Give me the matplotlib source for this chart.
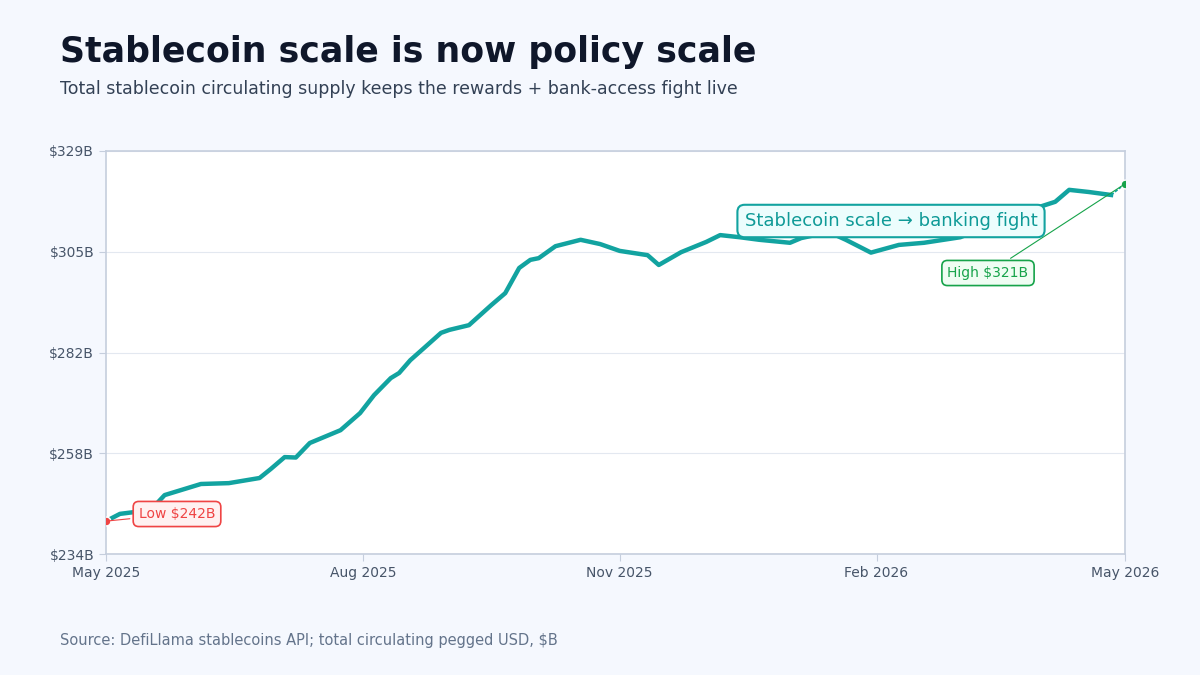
import matplotlib
matplotlib.use("Agg")
import matplotlib.pyplot as plt
import matplotlib.dates as mdates
import pandas as pd

dates = ["2025-05-01","2025-05-06","2025-05-17","2025-05-22","2025-06-04","2025-06-14","2025-06-25",
         "2025-06-29","2025-07-04","2025-07-08","2025-07-13","2025-07-24","2025-07-31","2025-08-05",
         "2025-08-11","2025-08-14","2025-08-18","2025-08-23","2025-08-29","2025-09-01","2025-09-08",
         "2025-09-16","2025-09-21","2025-09-26","2025-09-30","2025-10-03","2025-10-09","2025-10-18",
         "2025-10-25","2025-11-01","2025-11-11","2025-11-15","2025-11-23","2025-12-02","2025-12-07",
         "2025-12-14","2025-12-21","2026-01-01","2026-01-05","2026-01-15","2026-01-21","2026-01-30",
         "2026-02-09","2026-02-18","2026-03-03","2026-03-17","2026-03-28","2026-04-06","2026-04-11",
         "2026-04-18","2026-04-26","2026-05-01"]
supply = [242.1,243.8,244.7,248.2,250.8,251.0,252.2,254.3,257.1,257.0,260.4,263.4,267.4,271.6,
          275.6,276.8,279.8,282.7,286.2,286.9,288.0,292.7,295.5,301.4,303.3,303.7,306.5,308.0,
          307.0,305.4,304.4,302.1,305.1,307.5,309.1,308.6,308.0,307.3,308.4,309.8,308.0,305.0,
          306.8,307.3,308.6,312.2,315.0,316.9,319.7,319.2,318.5,321.1,321.0]
supply = supply[:len(dates)]
yticks = [234, 258, 282, 305, 329]
ylabels = ["$234B", "$258B", "$282B", "$305B", "$329B"]
xticks = ["2025-05-01", "2025-08-01", "2025-11-01", "2026-02-01", "2026-05-01"]
xlabels = ["May 2025", "Aug 2025", "Nov 2025", "Feb 2026", "May 2026"]

d = pd.to_datetime(dates)
bg = "#f5f8fe"
teal = "#12a3a0"
fig = plt.figure(figsize=(12, 6.75), dpi=100, facecolor=bg)
ax = fig.add_axes([106/1200, 1-554/675, (1125-106)/1200, (554-151)/675])
ax.set_facecolor("white")
ax.plot(d[:-1], supply[:-1], color=teal, lw=3.2, solid_joinstyle="round", zorder=3)
ax.plot(d[-2:], supply[-2:], color=teal, lw=1.2, ls=(0, (2, 1)), zorder=3)
ax.set_ylim(234.4, 328.8)
ax.set_xlim(pd.Timestamp("2025-05-01"), pd.Timestamp("2026-05-01"))
ax.set_yticks([234.4, 258.0, 281.6, 305.2, 328.8])
ax.set_yticklabels(ylabels)
ax.set_xticks(pd.to_datetime(xticks))
ax.set_xticklabels(xlabels)
ax.grid(axis="y", color="#e3e8f0", lw=0.8)
for s in ax.spines.values():
    s.set_color("#c5cedd"); s.set_linewidth(1.2)
ax.tick_params(colors="#475569", labelsize=10, length=5, color="#c5cedd")

imin = supply.index(min(supply)); imax = supply.index(max(supply))
ax.scatter([d[imin]], [supply[imin]], color="#ef4444", s=40, zorder=5, edgecolor="white", lw=1)
ax.scatter([d[imax]], [supply[imax]], color="#16a34a", s=40, zorder=5, edgecolor="white", lw=1)
ax.annotate(f"Low ${min(supply):.0f}B", xy=(d[imin], supply[imin]), xytext=(177, 514 - 0),
            textcoords="figure pixels", fontsize=10, color="#ef4444", ha="center", va="center",
            bbox=dict(boxstyle="round,pad=0.4", fc="#fff1f1", ec="#ef4444", lw=1.2),
            arrowprops=dict(arrowstyle="-", color="#ef4444", lw=0.8), zorder=6)
ax.annotate(f"High ${max(supply):.0f}B", xy=(d[imax], supply[imax]), xytext=(988, 675 - 273),
            textcoords="figure pixels", fontsize=10, color="#16a34a", ha="center", va="center",
            bbox=dict(boxstyle="round,pad=0.4", fc="#effdf3", ec="#16a34a", lw=1.2),
            arrowprops=dict(arrowstyle="-", color="#16a34a", lw=0.8), zorder=6)
# fix Low position (figure pixels measured from bottom)
ax.texts[0].set_position((177, 675 - 514))
ax.text(891/1200, 1 - 221/675, "Stablecoin scale → banking fight", transform=fig.transFigure,
        fontsize=13, color="#0f9a97", ha="center", va="center", zorder=7,
        bbox=dict(boxstyle="round,pad=0.4", fc="#ecfdfd", ec="#12a3a0", lw=1.5))

fig.text(60/1200, 1 - 52/675, "Stablecoin scale is now policy scale", fontsize=25, weight="bold",
         color="#0f172a", va="center")
fig.text(60/1200, 1 - 89/675, "Total stablecoin circulating supply keeps the rewards + bank-access fight live",
         fontsize=12.5, color="#334155", va="center")
fig.text(60/1200, 1 - 641/675, "Source: DefiLlama stablecoins API; total circulating pegged USD, $B",
         fontsize=10.5, color="#64748b", va="center")
fig.savefig("out.png", dpi=100, facecolor=bg)
